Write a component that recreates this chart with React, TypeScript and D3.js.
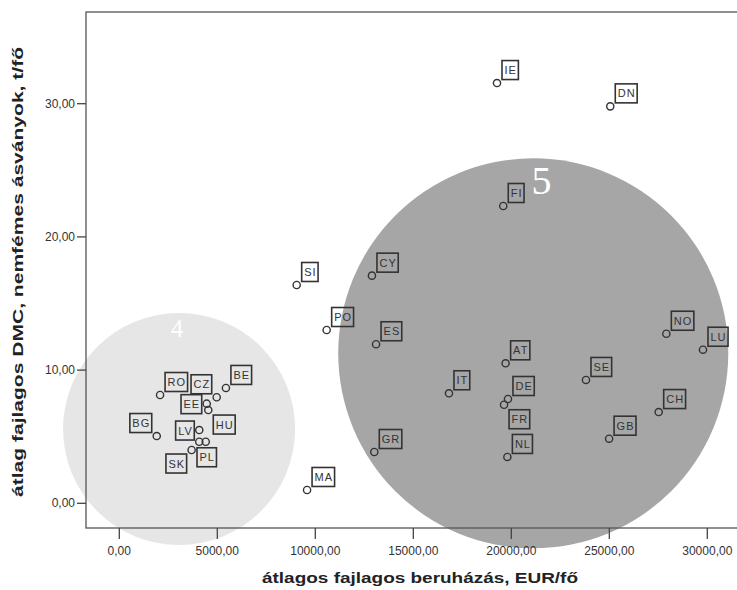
import React from "react";
import * as d3 from "d3";

// country codes and values (x: EUR/fő beruházás, y: DMC t/fő)
const codes = [
  "IE", "DN", "FI", "SI", "CY", "PO", "ES", "IT", "AT", "DE", "FR", "NL", "GR", "MA",
  "NO", "LU", "SE", "CH", "GB",
  "RO", "BG", "BE", "CZ", "EE", "HU", "LV", "", "PL", "SK",
];
const invest = [
  19270, 25050, 19590, 9050, 12890, 10580, 13100, 16820, 19710, 19830, 19630, 19800, 13010, 9580,
  27910, 29780, 23810, 27520, 24990,
  2080, 1910, 5440, 4970, 4460, 4540, 4080, 4080, 4410, 3690,
];
const dmc = [
  31.55, 29.8, 22.32, 16.39, 17.09, 13.01, 11.94, 8.26, 10.51, 7.83, 7.4, 3.48, 3.85, 1.0,
  12.73, 11.53, 9.26, 6.85, 4.85,
  8.13, 5.05, 8.66, 7.96, 7.48, 7.0, 5.5, 4.62, 4.62, 4.0,
];

// cluster annotation circles
const clusterNames = ["4", "5"];
const clusterX = [3050, 21120];
const clusterY = [5.58, 11.26];
const clusterR = [5920, 9950];

const xTicks = [0, 5000, 10000, 15000, 20000, 25000, 30000];
const yTicks = [0, 10, 20, 30];

// where the label box sits relative to its point
const labelSide: Record<string, string> = {
  BG: "nw",
  CZ: "nw",
  EE: "w",
  HU: "se",
  LV: "w",
  PL: "s",
  SK: "sw",
  FR: "se",
};

const W = 737;
const H = 590;
const frame = { left: 86, top: 12, right: 740, bottom: 528 };

const fmt = (v: number) => v.toFixed(2).replace(".", ",");

let ctx: CanvasRenderingContext2D | null = null;
function textW(s: string) {
  if (!ctx) ctx = document.createElement("canvas").getContext("2d");
  ctx!.font = "11px 'Liberation Sans', Arial, sans-serif";
  return ctx!.measureText(s).width + s.length * 1;
}

export default function App() {
  const x = d3.scaleLinear().domain([0, 30000]).range([119.3, 707.3]);
  const y = d3.scaleLinear().domain([0, 30]).range([503.3, 103.7]);
  const pxPerX = (x(30000) - x(0)) / 30000;

  const boxH = 19;

  return (
    <svg
      width={W}
      height={H}
      style={{ position: "absolute", left: 0, top: 0, background: "#fff" }}
      fontFamily="'Liberation Sans', Arial, sans-serif"
    >
      {/* cluster circles */}
      {clusterNames.map((n, i) => (
        <circle
          key={"c" + n}
          cx={x(clusterX[i])}
          cy={y(clusterY[i])}
          r={clusterR[i] * pxPerX}
          fill={i === 0 ? "#e6e6e6" : "#a6a6a6"}
        />
      ))}
      <text x={177} y={337} textAnchor="middle" fill="#fff" fontFamily="'Liberation Serif', 'Times New Roman', serif" fontSize={25}>
        {clusterNames[0]}
      </text>
      <text x={541.5} y={193.5} textAnchor="middle" fill="#fff" fontFamily="'Liberation Serif', 'Times New Roman', serif" fontSize={40}>
        {clusterNames[1]}
      </text>

      {/* frame */}
      <rect
        x={frame.left}
        y={frame.top}
        width={frame.right - frame.left}
        height={frame.bottom - frame.top}
        fill="none"
        stroke="#555"
        strokeWidth={1.3}
      />

      {/* y axis */}
      {yTicks.map((t) => (
        <g key={"y" + t}>
          <line x1={frame.left - 9} x2={frame.left} y1={y(t)} y2={y(t)} stroke="#444" strokeWidth={1.3} />
          <text x={frame.left - 11} y={y(t) + 4} textAnchor="end" fontSize={12} fill="#333">
            {fmt(t)}
          </text>
        </g>
      ))}

      {/* x axis */}
      {xTicks.map((t) => (
        <g key={"x" + t}>
          <line x1={x(t)} x2={x(t)} y1={frame.bottom} y2={frame.bottom + 11} stroke="#444" strokeWidth={1.3} />
          <text x={x(t)} y={555} textAnchor="middle" fontSize={12} fill="#333">
            {fmt(t)}
          </text>
        </g>
      ))}

      <text
        x={420}
        y={583}
        textAnchor="middle"
        fontSize={15}
        fontWeight="bold"
        fill="#222"
        fontFamily="'Liberation Sans Narrow', 'Arial Narrow', 'Liberation Sans', sans-serif"
        textLength={316}
        lengthAdjust="spacingAndGlyphs"
      >
        átlagos fajlagos beruházás, EUR/fő
      </text>
      <text
        transform="translate(23,272) rotate(-90)"
        textAnchor="middle"
        fontSize={15}
        fontWeight="bold"
        fill="#222"
        fontFamily="'Liberation Sans Narrow', 'Arial Narrow', 'Liberation Sans', sans-serif"
        textLength={450}
        lengthAdjust="spacingAndGlyphs"
      >
        átlag fajlagos DMC, nemfémes ásványok, t/fő
      </text>

      {/* points and labels */}
      {codes.map((c, i) => {
        const cx = x(invest[i]);
        const cy = y(dmc[i]);
        let label = null;
        if (c) {
          const bw = textW(c) + 4;
          const side = labelSide[c] || "ne";
          let bx = cx + 5;
          let by = cy - 3.5 - boxH;
          if (side === "nw") bx = cx - 5 - bw;
          if (side === "w") {
            bx = cx - 5 - bw;
            by = cy - 9;
          }
          if (side === "se") by = cy + 5;
          if (side === "s") {
            bx = cx - bw / 2 + 1;
            by = cy + 6;
          }
          if (side === "sw") {
            bx = cx - 5 - bw;
            by = cy + 4;
          }
          label = (
            <g>
              <rect x={bx} y={by} width={bw} height={boxH} fill="none" stroke="#333" strokeWidth={1.6} />
              <text
                x={bx + bw / 2 + 0.5}
                y={by + boxH / 2 + 4}
                textAnchor="middle"
                fontSize={11}
                letterSpacing={1}
                fill="#333"
              >
                {c}
              </text>
            </g>
          );
        }
        return (
          <g key={"p" + i}>
            <circle cx={cx} cy={cy} r={3.6} fill="none" stroke="#333" strokeWidth={1.4} />
            {label}
          </g>
        );
      })}
    </svg>
  );
}
